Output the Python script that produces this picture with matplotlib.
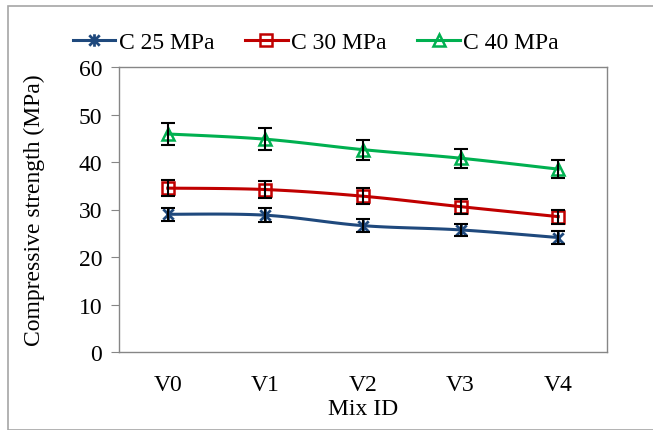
import numpy as np
import matplotlib
matplotlib.use("Agg")
import matplotlib.pyplot as plt
from matplotlib.path import Path
from matplotlib.patches import Rectangle

categories = ["V0", "V1", "V2", "V3", "V4"]
c25 = [29.0, 28.8, 26.6, 25.7, 24.1]
c25_err = [1.4, 1.45, 1.4, 1.3, 1.3]
c30 = [34.5, 34.2, 32.8, 30.6, 28.5]
c30_err = [1.7, 1.75, 1.7, 1.6, 1.5]
c40 = [45.9, 44.8, 42.6, 40.8, 38.5]
c40_err = [2.3, 2.3, 2.1, 2.0, 1.9]
series_names = ["C 25 MPa", "C 30 MPa", "C 40 MPa"]
colors = ["#1F497D", "#C00000", "#00B050"]

plt.rcParams['font.family'] = ['Liberation Serif', 'DejaVu Serif']

star = Path([(-1, -1), (1, 1), (-1, 1), (1, -1), (0, -1.2), (0, 1.2)],
            [Path.MOVETO, Path.LINETO, Path.MOVETO, Path.LINETO, Path.MOVETO, Path.LINETO])


def smooth(x, y, n=30):
    x = np.asarray(x, float)
    y = np.asarray(y, float)
    px = np.concatenate([[x[0]], x, [x[-1]]])
    py = np.concatenate([[y[0]], y, [y[-1]]])
    xs, ys = [], []
    t = np.linspace(0, 1, n)
    for i in range(1, len(px) - 2):
        p0, p1, p2, p3 = (px[i-1], py[i-1]), (px[i], py[i]), (px[i+1], py[i+1]), (px[i+2], py[i+2])
        c1 = (p1[0] + (p2[0] - p0[0]) / 6, p1[1] + (p2[1] - p0[1]) / 6)
        c2 = (p2[0] - (p3[0] - p1[0]) / 6, p2[1] - (p3[1] - p1[1]) / 6)
        bx = (1-t)**3*p1[0] + 3*(1-t)**2*t*c1[0] + 3*(1-t)*t**2*c2[0] + t**3*p2[0]
        by = (1-t)**3*p1[1] + 3*(1-t)**2*t*c1[1] + 3*(1-t)*t**2*c2[1] + t**3*p2[1]
        xs.append(bx)
        ys.append(by)
    return np.concatenate(xs), np.concatenate(ys)


W, H = 653, 431
fig = plt.figure(figsize=(W/100, H/100), dpi=100)
fig.patches.append(Rectangle((8/W, 0), 1, 1 - 7/H, transform=fig.transFigure,
                             fill=False, edgecolor="#A6A6A6", lw=1.2))
ax = fig.add_axes([119/W, (H-353)/H, (607-119)/W, (353-68)/H])

x = np.arange(len(categories))
data = [(c25, c25_err), (c30, c30_err), (c40, c40_err)]
markers = [star, 's', '^']
handles = []
for (vals, errs), col, mk, name in zip(data, colors, markers, series_names):
    sx, sy = smooth(x, vals)
    ax.plot(sx, sy, color=col, lw=2.2, zorder=2)
    ax.errorbar(x, vals, yerr=errs, fmt='none', ecolor='black', elinewidth=1.5,
                capsize=5, capthick=1.5, zorder=4)
    if mk is star:
        ax.plot(x, vals, linestyle='none', marker=mk, markersize=9, markeredgecolor=col,
                markeredgewidth=2, zorder=3)
    else:
        ax.plot(x, vals, linestyle='none', marker=mk, markersize=9, markerfacecolor='none',
                markeredgecolor=col, markeredgewidth=1.8, zorder=3)
    h, = ax.plot([], [], color=col, lw=2.2, marker=mk, markersize=9,
                 markerfacecolor='none', markeredgecolor=col,
                 markeredgewidth=2 if mk is star else 1.8)
    handles.append(h)

ax.set_xlim(-0.5, len(categories) - 0.5)
ax.set_ylim(0, 60)
ax.set_yticks(np.arange(0, 61, 10))
ax.set_xticks(x)
ax.set_xticklabels(categories)
for s in ax.spines.values():
    s.set_color("#868686")
    s.set_linewidth(1.0)
ax.tick_params(axis='y', direction='out', length=6, color="#868686", labelsize=17, pad=6)
ax.tick_params(axis='x', length=0, labelsize=17, pad=16)
ax.set_xlabel("Mix ID", fontsize=17, labelpad=2)
ax.set_ylabel("Compressive strength (MPa)", fontsize=17, labelpad=24)

fig.legend(handles, series_names, loc='center', bbox_to_anchor=(316/W, 1 - 43/H),
           ncol=3, frameon=False, fontsize=17, handlelength=1.8, handletextpad=0.15,
           columnspacing=1.3)

fig.savefig("out.png", dpi=100)
